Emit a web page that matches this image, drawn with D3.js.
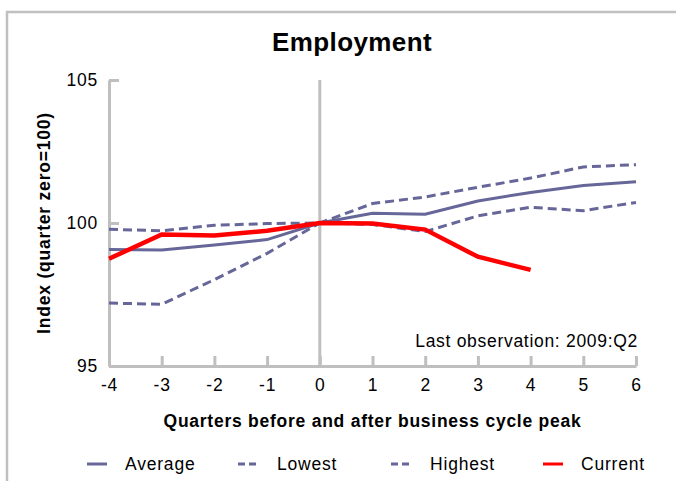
<!DOCTYPE html>
<html>
<head>
<meta charset="utf-8">
<script src="https://cdn.jsdelivr.net/npm/d3@7"></script>
<style>
  body { margin: 0; background: #fff; }
  text { font-family: "Liberation Sans", Arial, sans-serif; fill: #000; }
</style>
</head>
<body>
<div id="viz-wrapper"></div>
<script>
let width = 676,
    height = 481;

// Data
let quarters = [-4, -3, -2, -1, 0, 1, 2, 3, 4, 5, 6];
let average  = [99.07, 99.06, 99.23, 99.42, 100, 100.34, 100.31, 100.77, 101.07, 101.31, 101.44];
let lowest   = [97.20, 97.16, 98.02, 98.94, 100, 99.95, 99.70, 100.25, 100.55, 100.43, 100.72];
let highest  = [99.78, 99.73, 99.92, 99.98, 100, 100.68, 100.91, 101.25, 101.57, 101.96, 102.04];
let current  = [98.75, 99.60, 99.56, 99.73, 100, 99.98, 99.77, 98.82, 98.36];
let yTicks = [95, 100, 105];

let seriesNames = ['Average', 'Lowest', 'Highest', 'Current'];

let slate = '#666699',
    red = '#ff0000',
    axisGray = '#bfbfbf';

let xScale = d3.scaleLinear().domain([-4, 6]).range([109, 636]);
let yScale = d3.scaleLinear().domain([95, 105]).range([366, 80]);

let svg = d3.select('#viz-wrapper')
  .append('svg')
  .attr('width', width)
  .attr('height', height);

svg.append('rect').attr('width', width).attr('height', height).attr('fill', '#fff');

// outer frame (only top and left visible)
svg.append('path')
  .attr('d', 'M7,' + height + 'V12H' + width)
  .attr('fill', 'none')
  .attr('stroke', '#c0c0c0')
  .attr('stroke-width', 2.5);

// title
svg.append('text')
  .attr('x', 352).attr('y', 51)
  .attr('text-anchor', 'middle')
  .style('font-size', '26px')
  .style('font-weight', 'bold')
  .style('letter-spacing', '0.4px')
  .text('Employment');

// zero line
svg.append('line')
  .attr('x1', xScale(0)).attr('x2', xScale(0))
  .attr('y1', yScale(105)).attr('y2', yScale(95))
  .attr('stroke', axisGray)
  .attr('stroke-width', 3);

// axes
let yAxis = d3.axisLeft(yScale)
  .tickValues(yTicks)
  .tickSize(-10)
  .tickSizeOuter(0)
  .tickPadding(11);

let xAxis = d3.axisBottom(xScale)
  .tickValues(quarters)
  .tickFormat(d3.format('d'))
  .tickSize(-10)
  .tickSizeOuter(0)
  .tickPadding(13);

let gy = svg.append('g')
  .attr('transform', 'translate(' + xScale(-4) + ',0)')
  .call(yAxis);

let gx = svg.append('g')
  .attr('transform', 'translate(0,' + yScale(95) + ')')
  .call(xAxis);

[gx, gy].forEach(function(g) {
  g.select('.domain').attr('stroke', axisGray).attr('stroke-width', 3);
  g.selectAll('.tick line').attr('stroke', axisGray).attr('stroke-width', 3);
  g.selectAll('.tick text')
    .style('font-family', '"Liberation Sans", Arial, sans-serif')
    .style('font-size', '17.5px')
    .style('letter-spacing', '0.8px')
    .attr('fill', '#000');
});
gx.selectAll('.tick text').text(function(d) { return d < 0 ? '-' + (-d) : d; });

// axis titles
svg.append('text')
  .attr('x', (xScale(-4) + xScale(6)) / 2).attr('y', 427)
  .attr('text-anchor', 'middle')
  .style('font-size', '17.5px')
  .style('font-weight', 'bold')
  .style('letter-spacing', '0.75px')
  .text('Quarters before and after business cycle peak');

svg.append('text')
  .attr('transform', 'translate(50,' + yScale(100) + ') rotate(-90)')
  .attr('text-anchor', 'middle')
  .style('font-size', '17.5px')
  .style('font-weight', 'bold')
  .style('letter-spacing', '0.8px')
  .text('Index (quarter zero=100)');

// annotation
svg.append('text')
  .attr('x', 638).attr('y', 347)
  .attr('text-anchor', 'end')
  .style('font-size', '17.5px')
  .style('letter-spacing', '0.7px')
  .text('Last observation: 2009:Q2');

// lines
let line = d3.line()
  .x(function(d, i) { return xScale(quarters[i]); })
  .y(function(d) { return yScale(d); });

let series = [
  { name: 'Highest', values: highest, color: slate, width: 3, dash: '9,5' },
  { name: 'Lowest',  values: lowest,  color: slate, width: 3, dash: '9,5' },
  { name: 'Average', values: average, color: slate, width: 3, dash: null },
  { name: 'Current', values: current, color: red,   width: 4.5, dash: null }
];

svg.selectAll('path.series')
  .data(series)
  .enter()
  .append('path')
  .attr('class', 'series')
  .attr('d', function(d) { return line(d.values); })
  .attr('fill', 'none')
  .attr('stroke', function(d) { return d.color; })
  .attr('stroke-width', function(d) { return d.width; })
  .attr('stroke-dasharray', function(d) { return d.dash; });

// legend
let legendX = [87, 238, 391, 543];
let legend = svg.selectAll('g.legend-item')
  .data(seriesNames)
  .enter()
  .append('g')
  .attr('class', 'legend-item')
  .attr('transform', function(d, i) { return 'translate(' + legendX[i] + ',464)'; });

legend.append('line')
  .attr('x1', 0)
  .attr('x2', function(d) { return d === 'Average' || d === 'Current' ? 20 : 18; })
  .attr('stroke', function(d) { return d === 'Current' ? red : slate; })
  .attr('stroke-width', 3)
  .attr('stroke-dasharray', function(d) { return d === 'Lowest' || d === 'Highest' ? '7,4' : null; });

legend.append('text')
  .attr('x', function(d) { return d === 'Average' || d === 'Current' ? 38 : 39; })
  .attr('y', 6)
  .style('font-size', '17.5px')
  .style('letter-spacing', '0.8px')
  .text(function(d) { return d; });
</script>
</body>
</html>
